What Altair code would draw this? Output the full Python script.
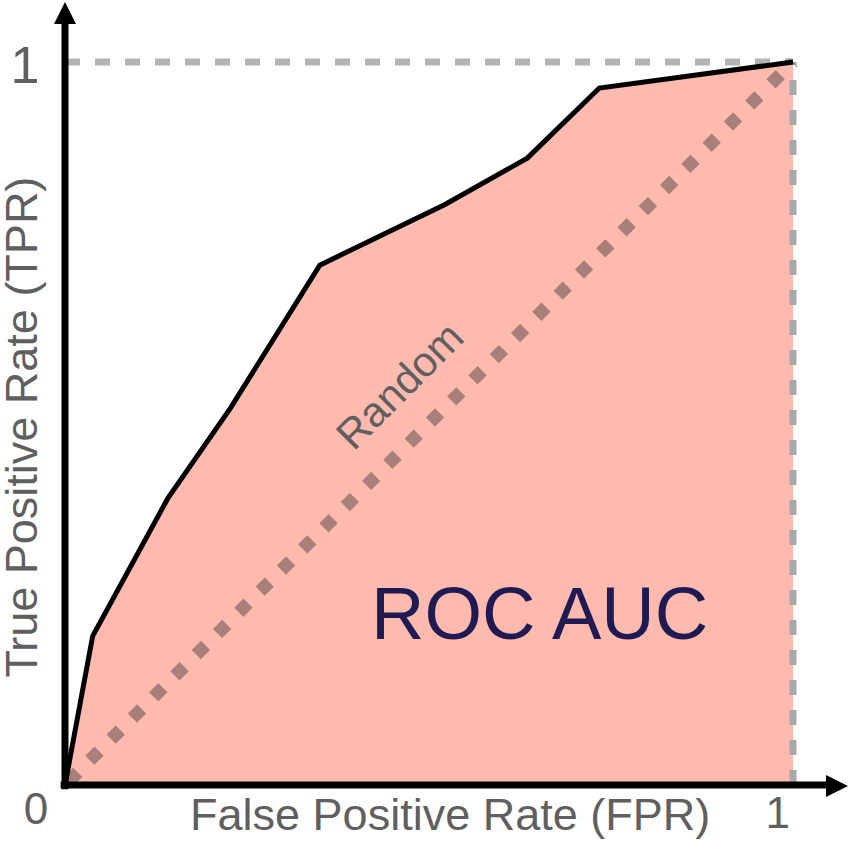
import altair as alt
import pandas as pd

# ROC curve vertices
fpr = [0.0, 0.038, 0.141, 0.227, 0.350, 0.522, 0.635, 0.734, 1.0]
tpr = [0.0, 0.206, 0.396, 0.521, 0.719, 0.803, 0.867, 0.964, 1.0]

# reference lines
diag_x = [0.0, 1.0]
diag_y = [0.0, 1.0]
top_x = [0.0, 1.0]
top_y = [1.0, 1.0]
right_x = [1.0, 1.0]
right_y = [0.0, 1.0]

# axis extents (arrow shafts) and arrow heads, in data units
yaxis_y = [-0.006, 1.0526]
xaxis_x = [-0.006, 1.0453]
arrow_up = (0.0, 1.0678)
arrow_right = (1.0604, -0.0014)

# texts
labels = ["ROC AUC", "Random", "False Positive Rate (FPR)", "True Positive Rate (TPR)", "1", "0", "1"]

FONT = "Liberation Sans"
GRAY = "#5f5f5f"

XD = [-0.08929, 1.07692]
YD = [-0.07746, 1.08575]
xs = alt.Scale(domain=XD, nice=False, zero=False)
ys = alt.Scale(domain=YD, nice=False, zero=False)

X = alt.X("x:Q", scale=xs, axis=None)
Y = alt.Y("y:Q", scale=ys, axis=None)

roc = pd.DataFrame({"x": fpr, "y": tpr, "y0": [0.0] * len(fpr)})

area = alt.Chart(roc).mark_area(color="#ffbab0", opacity=1).encode(
    x=X, y=Y, y2="y0:Q",
)

right_line = alt.Chart(pd.DataFrame({"x": right_x, "y": right_y, "o": [0, 1]})).mark_line(
    color="#a8a8a8", strokeWidth=7, strokeDash=[15, 15], strokeCap="butt"
).encode(x=X, y=Y, order=alt.Order("o:Q"))

top_line = alt.Chart(pd.DataFrame({"x": top_x, "y": top_y})).mark_line(
    color="#b3b3b3", strokeWidth=7, strokeDash=[15, 15], strokeCap="butt"
).encode(x=X, y=Y)

diag = alt.Chart(pd.DataFrame({"x": diag_x, "y": diag_y})).mark_line(
    color="#a97f79", strokeWidth=13, strokeDash=[13, 17], strokeDashOffset=25, strokeCap="butt"
).encode(x=X, y=Y)

curve = alt.Chart(roc).mark_line(
    color="black", strokeWidth=5, strokeJoin="miter"
).encode(x=X, y=Y)

yaxis = alt.Chart(pd.DataFrame({"x": [0.0], "y": [yaxis_y[0]], "y2": [yaxis_y[1]]})).mark_rule(
    color="black", strokeWidth=7
).encode(x=X, y=Y, y2="y2:Q")

xaxis = alt.Chart(pd.DataFrame({"x": [xaxis_x[0]], "x2": [xaxis_x[1]], "y": [0.0]})).mark_rule(
    color="black", strokeWidth=7
).encode(x=X, x2="x2:Q", y=Y)

up = alt.Chart(pd.DataFrame({"x": [arrow_up[0]], "y": [arrow_up[1]]})).mark_point(
    shape="M0,-1L1,1L-1,1Z", size=484, filled=True, color="black", opacity=1, strokeWidth=0
).encode(x=X, y=Y)
right = alt.Chart(pd.DataFrame({"x": [arrow_right[0]], "y": [arrow_right[1]]})).mark_point(
    shape="M1,0L-1,-1L-1,1Z", size=484, filled=True, color="black", opacity=1, strokeWidth=0
).encode(x=X, y=Y)


def text(label, x, y, size, color=GRAY, angle=0, baseline="alphabetic", align="center"):
    return alt.Chart(pd.DataFrame({"x": [x], "y": [y], "t": [label]})).mark_text(
        font=FONT, fontSize=size, color=color, angle=angle, baseline=baseline, align=align
    ).encode(x=X, y=Y, text="t:N")


t_auc = text(labels[0], 0.652, 0.202, 74, color="#1f1a52")
t_rand = text(labels[1], 0.461, 0.551, 42, angle=315, baseline="middle")
t_xt = text(labels[2], 0.529, -0.0622, 45)
t_yt = text(labels[3], -0.0385, 0.495, 45, angle=270)
t_y1 = text(labels[4], -0.0549, 0.971, 52)
t_0 = text(labels[5], -0.0398, -0.0539, 44)
t_x1 = text(labels[6], 0.979, -0.0595, 44)

chart = alt.layer(
    area, right_line, top_line, diag, curve, yaxis, xaxis, up, right,
    t_auc, t_rand, t_xt, t_yt, t_y1, t_0, t_x1,
).properties(
    width=849, height=841, autosize=alt.AutoSizeParams(type="none"), padding=0,
    background="white",
).configure_view(stroke=None)

chart.save("out.html", embed_options={"renderer": "svg", "actions": False})
